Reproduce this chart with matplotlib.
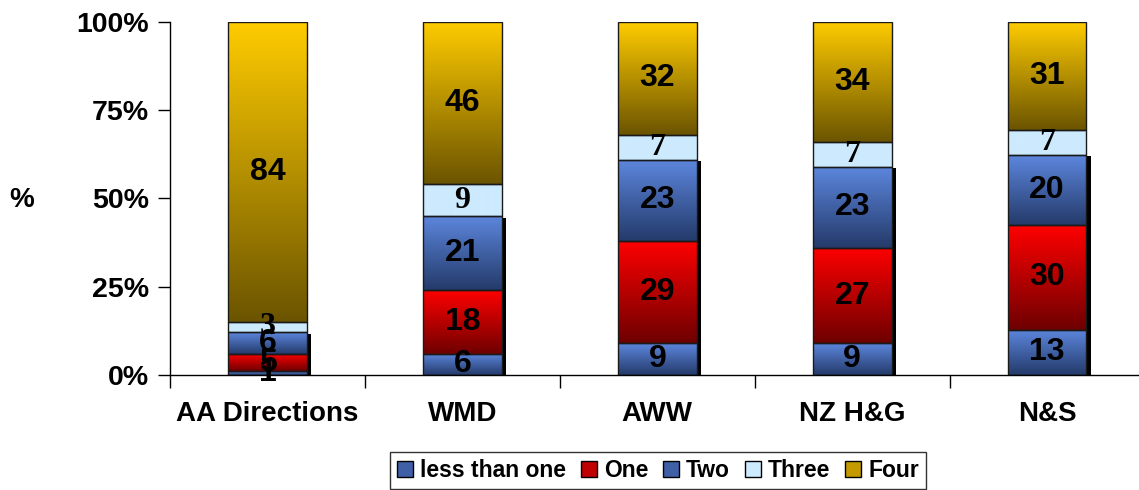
import numpy as np
import matplotlib
matplotlib.use("Agg")
import matplotlib.pyplot as plt
from matplotlib.patches import Patch
from matplotlib.colors import LinearSegmentedColormap

# ----------------------------------------------------------------------------
# Data
# ----------------------------------------------------------------------------

categories = ["AA Directions", "WMD", "AWW", "NZ H&G", "N&S"]
series = ["less than one", "One", "Two", "Three", "Four"]

less_than_one = [1, 6, 9, 9, 13]
one = [5, 18, 29, 27, 30]
two = [6, 21, 23, 23, 20]
three = [3, 9, 7, 7, 7]
four = [84, 46, 32, 34, 31]

y_ticks = [0, 25, 50, 75, 100]
y_tick_labels = ["0%", "25%", "50%", "75%", "100%"]

# ----------------------------------------------------------------------------
# Styling
# ----------------------------------------------------------------------------

# (top colour, bottom colour) of each segment gradient
GRADIENTS = {
    "less than one": ("#5d87de", "#243a6a"),
    "One": ("#ff0000", "#6e0000"),
    "Two": ("#5d87de", "#243a6a"),
    "Three": ("#cdeafe", "#cdeafe"),
    "Four": ("#ffcc00", "#6b5400"),
}
LEGEND_FACE = {
    "less than one": "#3f5fa6",
    "One": "#c00000",
    "Two": "#3f5fa6",
    "Three": "#cdeafe",
    "Four": "#c39a00",
}

BAR_W = 0.405
SANS = ["Liberation Sans", "DejaVu Sans"]
SERIF = ["Liberation Serif", "DejaVu Serif"]

plt.rcParams["font.family"] = SANS
plt.rcParams["font.weight"] = "bold"

fig = plt.figure(figsize=(11.39, 4.90), dpi=100)
ax = fig.add_axes([0.1493, 0.2347, 0.8555, 0.7204])

values = np.array([less_than_one, one, two, three, four], dtype=float)
pct = values / values.sum(axis=0) * 100
bottoms = np.vstack([np.zeros(len(categories)), np.cumsum(pct, axis=0)[:-1]])
x = np.arange(len(categories))

# black drop shadow behind the lower three segments
shadow_top = bottoms[3]
ax.bar(x + 0.022, shadow_top, bottom=-0.4, width=BAR_W, color="black",
       zorder=1, clip_on=False)

grad = np.linspace(0, 1, 256).reshape(-1, 1)
for i, name in enumerate(series):
    top_c, bot_c = GRADIENTS[name]
    cmap = LinearSegmentedColormap.from_list(name, [bot_c, top_c])
    for j in range(len(categories)):
        y0 = bottoms[i, j]
        y1 = y0 + pct[i, j]
        ax.imshow(grad, cmap=cmap, aspect="auto", origin="lower",
                  extent=[x[j] - BAR_W / 2, x[j] + BAR_W / 2, y0, y1],
                  zorder=2, interpolation="bilinear")
        ax.add_patch(plt.Rectangle((x[j] - BAR_W / 2, y0), BAR_W, y1 - y0,
                                   fill=False, edgecolor="#1a1a1a", lw=1.0,
                                   zorder=3))
        fam = SERIF if name == "Three" else SANS
        ax.text(x[j], (y0 + y1) / 2, f"{int(values[i, j])}", ha="center",
                va="center", fontsize=23, fontweight="bold", family=fam,
                color="black", zorder=4)

ax.set_xlim(-0.5, len(categories) - 0.5)
ax.set_ylim(0, 100)

ax.set_yticks(y_ticks, y_tick_labels, fontsize=20.5, fontweight="bold")
ax.set_xticks(x, categories, fontsize=20, fontweight="bold")
ax.set_xticks(np.arange(len(categories) + 1) - 0.5, minor=True)
ax.tick_params(axis="x", which="major", length=0, pad=19)
ax.tick_params(axis="x", which="minor", length=9, width=1, direction="out")
ax.tick_params(axis="y", length=9, width=1, direction="out", pad=6)

for side in ("top", "right"):
    ax.spines[side].set_visible(False)
for side in ("left", "bottom"):
    ax.spines[side].set_linewidth(1.0)
    ax.spines[side].set_zorder(5)

fig.text(22 / 1139, 1 - 200 / 490, "%", fontsize=20, fontweight="bold",
         ha="center", va="center")

handles = [Patch(facecolor=LEGEND_FACE[s], edgecolor="black", lw=1.0)
           for s in series]
fig.legend(handles, series, loc="upper center", ncol=5,
           bbox_to_anchor=(658 / 1139, 1 - 452 / 490),
           prop={"size": 16.5, "weight": "bold"}, frameon=True, fancybox=False,
           edgecolor="black", handlelength=0.7, handleheight=0.7,
           handletextpad=0.3, columnspacing=0.65, borderpad=0.3,
           borderaxespad=0)

fig.savefig("out.png", dpi=100)
